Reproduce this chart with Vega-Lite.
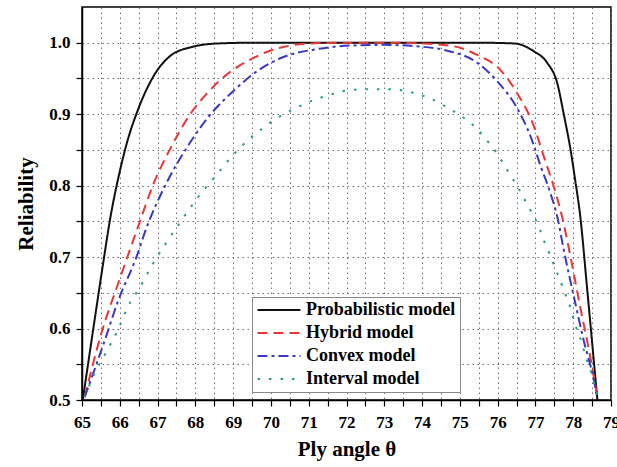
{
  "$schema": "https://vega.github.io/schema/vega-lite/v6.json",
  "width": 529,
  "height": 393,
  "autosize": "none",
  "padding": {"left": 82, "top": 7, "right": 6, "bottom": 67},
  "background": "white",
  "config": {
    "view": {"stroke": "black", "strokeWidth": 1.5},
    "font": "Liberation Serif",
    "axis": {
      "domainColor": "black", "domainWidth": 1.5,
      "tickColor": "black", "tickWidth": 1.2, "tickSize": 6,
      "labelFont": "Liberation Serif", "labelFontSize": 17, "labelFontWeight": "bold", "labelColor": "black",
      "titleFont": "Liberation Serif", "titleFontSize": 21, "titleFontWeight": "bold", "titleColor": "black",
      "gridColor": "#707070", "gridDash": [1.5, 3.5], "gridWidth": 1, "gridOpacity": 1,
      "labelOverlap": false, "labelFlush": false, "labelBound": false
    }
  },
  "data": {"values": [
    {"model": "Probabilistic model", "theta": 65.02, "R": 0.500},
    {"model": "Probabilistic model", "theta": 65.30, "R": 0.600},
    {"model": "Probabilistic model", "theta": 65.55, "R": 0.688},
    {"model": "Probabilistic model", "theta": 65.75, "R": 0.755},
    {"model": "Probabilistic model", "theta": 66.00, "R": 0.820},
    {"model": "Probabilistic model", "theta": 66.20, "R": 0.862},
    {"model": "Probabilistic model", "theta": 66.48, "R": 0.906},
    {"model": "Probabilistic model", "theta": 66.88, "R": 0.952},
    {"model": "Probabilistic model", "theta": 67.30, "R": 0.980},
    {"model": "Probabilistic model", "theta": 67.90, "R": 0.994},
    {"model": "Probabilistic model", "theta": 68.60, "R": 0.999},
    {"model": "Probabilistic model", "theta": 69.50, "R": 1.000},
    {"model": "Probabilistic model", "theta": 72.00, "R": 1.000},
    {"model": "Probabilistic model", "theta": 75.50, "R": 1.000},
    {"model": "Probabilistic model", "theta": 76.43, "R": 0.999},
    {"model": "Probabilistic model", "theta": 76.96, "R": 0.988},
    {"model": "Probabilistic model", "theta": 77.31, "R": 0.972},
    {"model": "Probabilistic model", "theta": 77.58, "R": 0.943},
    {"model": "Probabilistic model", "theta": 77.75, "R": 0.900},
    {"model": "Probabilistic model", "theta": 77.93, "R": 0.850},
    {"model": "Probabilistic model", "theta": 78.06, "R": 0.805},
    {"model": "Probabilistic model", "theta": 78.18, "R": 0.760},
    {"model": "Probabilistic model", "theta": 78.37, "R": 0.655},
    {"model": "Probabilistic model", "theta": 78.55, "R": 0.552},
    {"model": "Probabilistic model", "theta": 78.64, "R": 0.500},

    {"model": "Hybrid model", "theta": 65.07, "R": 0.504},
    {"model": "Hybrid model", "theta": 65.51, "R": 0.593},
    {"model": "Hybrid model", "theta": 65.99, "R": 0.668},
    {"model": "Hybrid model", "theta": 66.50, "R": 0.745},
    {"model": "Hybrid model", "theta": 66.88, "R": 0.801},
    {"model": "Hybrid model", "theta": 67.32, "R": 0.850},
    {"model": "Hybrid model", "theta": 67.85, "R": 0.899},
    {"model": "Hybrid model", "theta": 68.29, "R": 0.928},
    {"model": "Hybrid model", "theta": 68.82, "R": 0.955},
    {"model": "Hybrid model", "theta": 69.44, "R": 0.976},
    {"model": "Hybrid model", "theta": 69.89, "R": 0.987},
    {"model": "Hybrid model", "theta": 70.33, "R": 0.994},
    {"model": "Hybrid model", "theta": 71.00, "R": 0.999},
    {"model": "Hybrid model", "theta": 72.00, "R": 1.000},
    {"model": "Hybrid model", "theta": 73.00, "R": 1.000},
    {"model": "Hybrid model", "theta": 73.95, "R": 0.999},
    {"model": "Hybrid model", "theta": 74.84, "R": 0.995},
    {"model": "Hybrid model", "theta": 75.46, "R": 0.983},
    {"model": "Hybrid model", "theta": 76.07, "R": 0.962},
    {"model": "Hybrid model", "theta": 76.52, "R": 0.929},
    {"model": "Hybrid model", "theta": 76.96, "R": 0.883},
    {"model": "Hybrid model", "theta": 77.22, "R": 0.841},
    {"model": "Hybrid model", "theta": 77.49, "R": 0.798},
    {"model": "Hybrid model", "theta": 77.69, "R": 0.760},
    {"model": "Hybrid model", "theta": 77.93, "R": 0.700},
    {"model": "Hybrid model", "theta": 78.20, "R": 0.626},
    {"model": "Hybrid model", "theta": 78.42, "R": 0.569},
    {"model": "Hybrid model", "theta": 78.64, "R": 0.504},

    {"model": "Convex model", "theta": 65.07, "R": 0.504},
    {"model": "Convex model", "theta": 65.60, "R": 0.583},
    {"model": "Convex model", "theta": 65.95, "R": 0.638},
    {"model": "Convex model", "theta": 66.44, "R": 0.700},
    {"model": "Convex model", "theta": 66.70, "R": 0.740},
    {"model": "Convex model", "theta": 67.23, "R": 0.803},
    {"model": "Convex model", "theta": 67.76, "R": 0.852},
    {"model": "Convex model", "theta": 68.47, "R": 0.904},
    {"model": "Convex model", "theta": 69.00, "R": 0.932},
    {"model": "Convex model", "theta": 69.50, "R": 0.955},
    {"model": "Convex model", "theta": 70.33, "R": 0.980},
    {"model": "Convex model", "theta": 71.21, "R": 0.991},
    {"model": "Convex model", "theta": 72.10, "R": 0.996},
    {"model": "Convex model", "theta": 72.98, "R": 0.997},
    {"model": "Convex model", "theta": 73.86, "R": 0.995},
    {"model": "Convex model", "theta": 74.57, "R": 0.990},
    {"model": "Convex model", "theta": 75.46, "R": 0.972},
    {"model": "Convex model", "theta": 75.99, "R": 0.946},
    {"model": "Convex model", "theta": 76.52, "R": 0.908},
    {"model": "Convex model", "theta": 76.87, "R": 0.869},
    {"model": "Convex model", "theta": 77.14, "R": 0.827},
    {"model": "Convex model", "theta": 77.40, "R": 0.789},
    {"model": "Convex model", "theta": 77.58, "R": 0.756},
    {"model": "Convex model", "theta": 77.75, "R": 0.710},
    {"model": "Convex model", "theta": 78.02, "R": 0.644},
    {"model": "Convex model", "theta": 78.28, "R": 0.583},
    {"model": "Convex model", "theta": 78.55, "R": 0.527},
    {"model": "Convex model", "theta": 78.64, "R": 0.502},

    {"model": "Interval model", "theta": 65.07, "R": 0.504},
    {"model": "Interval model", "theta": 65.33, "R": 0.537},
    {"model": "Interval model", "theta": 65.64, "R": 0.567},
    {"model": "Interval model", "theta": 65.95, "R": 0.598},
    {"model": "Interval model", "theta": 66.21, "R": 0.630},
    {"model": "Interval model", "theta": 66.57, "R": 0.661},
    {"model": "Interval model", "theta": 66.88, "R": 0.691},
    {"model": "Interval model", "theta": 67.23, "R": 0.720},
    {"model": "Interval model", "theta": 67.63, "R": 0.751},
    {"model": "Interval model", "theta": 68.03, "R": 0.781},
    {"model": "Interval model", "theta": 68.51, "R": 0.812},
    {"model": "Interval model", "theta": 69.00, "R": 0.843},
    {"model": "Interval model", "theta": 69.44, "R": 0.866},
    {"model": "Interval model", "theta": 69.75, "R": 0.879},
    {"model": "Interval model", "theta": 70.06, "R": 0.891},
    {"model": "Interval model", "theta": 70.37, "R": 0.901},
    {"model": "Interval model", "theta": 70.64, "R": 0.908},
    {"model": "Interval model", "theta": 70.95, "R": 0.916},
    {"model": "Interval model", "theta": 71.25, "R": 0.922},
    {"model": "Interval model", "theta": 71.56, "R": 0.927},
    {"model": "Interval model", "theta": 71.88, "R": 0.932},
    {"model": "Interval model", "theta": 72.14, "R": 0.934},
    {"model": "Interval model", "theta": 72.45, "R": 0.935},
    {"model": "Interval model", "theta": 72.76, "R": 0.935},
    {"model": "Interval model", "theta": 73.07, "R": 0.935},
    {"model": "Interval model", "theta": 73.38, "R": 0.934},
    {"model": "Interval model", "theta": 73.69, "R": 0.931},
    {"model": "Interval model", "theta": 73.95, "R": 0.927},
    {"model": "Interval model", "theta": 74.26, "R": 0.921},
    {"model": "Interval model", "theta": 74.55, "R": 0.913},
    {"model": "Interval model", "theta": 74.84, "R": 0.904},
    {"model": "Interval model", "theta": 75.15, "R": 0.893},
    {"model": "Interval model", "theta": 75.46, "R": 0.879},
    {"model": "Interval model", "theta": 75.72, "R": 0.863},
    {"model": "Interval model", "theta": 75.97, "R": 0.846},
    {"model": "Interval model", "theta": 76.15, "R": 0.831},
    {"model": "Interval model", "theta": 76.32, "R": 0.816},
    {"model": "Interval model", "theta": 76.52, "R": 0.799},
    {"model": "Interval model", "theta": 76.68, "R": 0.784},
    {"model": "Interval model", "theta": 76.83, "R": 0.769},
    {"model": "Interval model", "theta": 76.99, "R": 0.754},
    {"model": "Interval model", "theta": 77.12, "R": 0.738},
    {"model": "Interval model", "theta": 77.24, "R": 0.721},
    {"model": "Interval model", "theta": 77.37, "R": 0.705},
    {"model": "Interval model", "theta": 77.51, "R": 0.686},
    {"model": "Interval model", "theta": 77.65, "R": 0.668},
    {"model": "Interval model", "theta": 77.77, "R": 0.651},
    {"model": "Interval model", "theta": 77.89, "R": 0.635},
    {"model": "Interval model", "theta": 77.98, "R": 0.619},
    {"model": "Interval model", "theta": 78.07, "R": 0.603},
    {"model": "Interval model", "theta": 78.18, "R": 0.588},
    {"model": "Interval model", "theta": 78.27, "R": 0.572},
    {"model": "Interval model", "theta": 78.36, "R": 0.556},
    {"model": "Interval model", "theta": 78.46, "R": 0.541},
    {"model": "Interval model", "theta": 78.55, "R": 0.525},
    {"model": "Interval model", "theta": 78.64, "R": 0.504}
  ]},
  "mark": {"type": "line", "interpolate": "monotone", "strokeWidth": 2},
  "encoding": {
    "x": {
      "field": "theta", "type": "quantitative",
      "scale": {"domain": [65, 79], "nice": false, "zero": false},
      "axis": {
        "title": "Ply angle θ",
        "values": [65,65.5,66,66.5,67,67.5,68,68.5,69,69.5,70,70.5,71,71.5,72,72.5,73,73.5,74,74.5,75,75.5,76,76.5,77,77.5,78,78.5,79],
        "labelExpr": "datum.value % 1 == 0 ? format(datum.value, 'd') : ''",
        "labelPadding": 8,
        "titlePadding": 8,
        "grid": true
      }
    },
    "y": {
      "field": "R", "type": "quantitative",
      "scale": {"domain": [0.5, 1.05], "nice": false, "zero": false},
      "axis": {
        "title": "Reliability",
        "values": [0.5,0.55,0.6,0.65,0.7,0.75,0.8,0.85,0.9,0.95,1.0],
        "labelExpr": "abs(datum.value*10 - round(datum.value*10)) < 0.001 ? format(datum.value, '.1f') : ''",
        "labelPadding": 6,
        "titlePadding": 12,
        "grid": true
      }
    },
    "color": {
      "field": "model", "type": "nominal",
      "scale": {
        "domain": ["Probabilistic model", "Hybrid model", "Convex model", "Interval model"],
        "range": ["#111111", "#f03434", "#3838c8", "#239e8e"]
      },
      "legend": {
        "title": null, "orient": "none", "legendX": 170, "legendY": 290,
        "labelFont": "Liberation Serif", "labelFontSize": 18, "labelFontWeight": "bold", "labelColor": "black",
        "symbolType": "M-1,0H4.73", "symbolSize": 225, "symbolStrokeWidth": 2,
        "labelOffset": 32, "rowPadding": 5, "padding": 4,
        "strokeColor": "#888888", "fillColor": "white"
      }
    },
    "strokeDash": {
      "field": "model", "type": "nominal",
      "scale": {
        "domain": ["Probabilistic model", "Hybrid model", "Convex model", "Interval model"],
        "range": [[1, 0], [10, 6], [10, 4, 3, 4], [2.5, 9]]
      },
      "legend": {
        "title": null, "orient": "none", "legendX": 170, "legendY": 290,
        "labelFont": "Liberation Serif", "labelFontSize": 18, "labelFontWeight": "bold", "labelColor": "black",
        "symbolType": "M-1,0H4.73", "symbolSize": 225, "symbolStrokeWidth": 2,
        "labelOffset": 32, "rowPadding": 5, "padding": 4,
        "strokeColor": "#888888", "fillColor": "white"
      }
    }
  }
}
